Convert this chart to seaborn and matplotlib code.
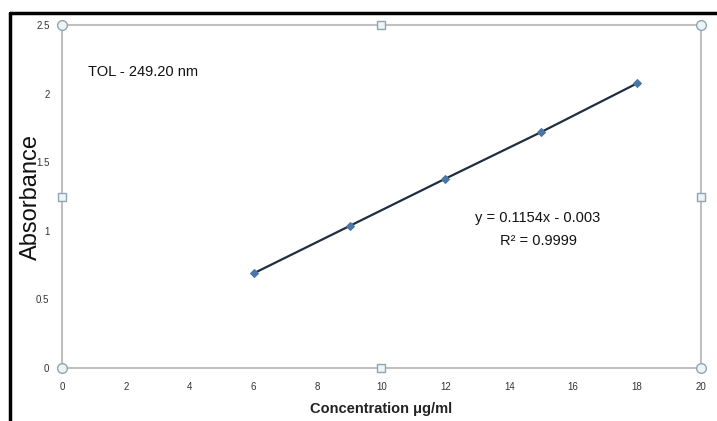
import matplotlib
matplotlib.use("Agg")
import matplotlib.pyplot as plt
import seaborn as sns
import pandas as pd
from matplotlib.lines import Line2D

concentration = [6, 9, 12, 15, 18]
absorbance = [0.69, 1.035, 1.38, 1.72, 2.075]
x_ticks = [0, 2, 4, 6, 8, 10, 12, 14, 16, 18, 20]
y_ticks = [0, 0.5, 1, 1.5, 2, 2.5]
y_tick_labels = ["0", "0.5", "1", "1.5", "2", "2.5"]

sns.set_style("white")
plt.rcParams['font.family'] = ['Liberation Sans', 'DejaVu Sans']

df = pd.DataFrame({"Concentration": concentration, "Absorbance": absorbance})

W, H = 717, 421
fig = plt.figure(figsize=(7.17, 4.21), dpi=100)
ax = fig.add_axes([62/W, 1-368/H, (701-62)/W, (368-25)/H])

sns.lineplot(data=df, x="Concentration", y="Absorbance", ax=ax, color="#1f2e40",
             linewidth=1.6, marker="D", markersize=4.5, markerfacecolor="#4a76a8",
             markeredgecolor="#4a76a8", zorder=3)

ax.set_xlim(0, 20)
ax.set_ylim(0, 2.5)
ax.set_xticks(x_ticks)
ax.set_xticklabels([str(t) for t in x_ticks])
ax.set_yticks(y_ticks)
ax.set_yticklabels(y_tick_labels)
ax.tick_params(axis="both", labelsize=7, colors="#999999", labelcolor="#333333",
               length=3, width=0.8, direction="out", pad=6)
ax.tick_params(axis="x", pad=7)
for s in ax.spines.values():
    s.set_color("#c0c0c0")
    s.set_linewidth(1.5)

ax.set_xlabel("")
ax.set_ylabel("")
fig.text(381/W, 1-409/H, "Concentration \u03bcg/ml", fontsize=10.5, fontweight="bold",
         color="#222222", ha="center", va="center")
fig.text(31/W, 1-197/H, "Absorbance", fontsize=17, color="#111111", rotation=90,
         ha="center", va="center")

fig.text(88/W, 1-72/H, "TOL - 249.20 nm", fontsize=10.5, color="#111111",
         va="center", ha="left")
fig.text(538/W, 1-218/H, "y = 0.1154x - 0.003", fontsize=10.5, color="#111111",
         ha="center", va="center")
fig.text(538/W, 1-241/H, "R\u00b2 = 0.9999", fontsize=10.5, color="#111111",
         ha="center", va="center")

# selection handles
hx = [62, 381, 701]
hy = [25, 197, 368]
for px in hx:
    for py in hy:
        if px == 381 and py == 197:
            continue
        fy = H - py
        if px != 381 and py != 197:
            fig.add_artist(Line2D([px/W], [fy/H], marker="o", markersize=7,
                                  markerfacecolor="#eef3f6", markeredgecolor="#8fa5b3",
                                  markeredgewidth=1.0, transform=fig.transFigure, zorder=10))
        else:
            fig.add_artist(Line2D([px/W], [fy/H], marker="s", markersize=5.5,
                                  markerfacecolor="#eef3f6", markeredgecolor="#8fa5b3",
                                  markeredgewidth=1.0, transform=fig.transFigure, zorder=10))

# outer black border (top and left)
fig.add_artist(Line2D([10/W, 1.0], [1-13/H, 1-13/H], color="black", linewidth=2.5,
                      transform=fig.transFigure))
fig.add_artist(Line2D([10/W, 10/W], [0, 1-13/H], color="black", linewidth=2.5,
                      transform=fig.transFigure))

fig.savefig("out.png", dpi=100)
